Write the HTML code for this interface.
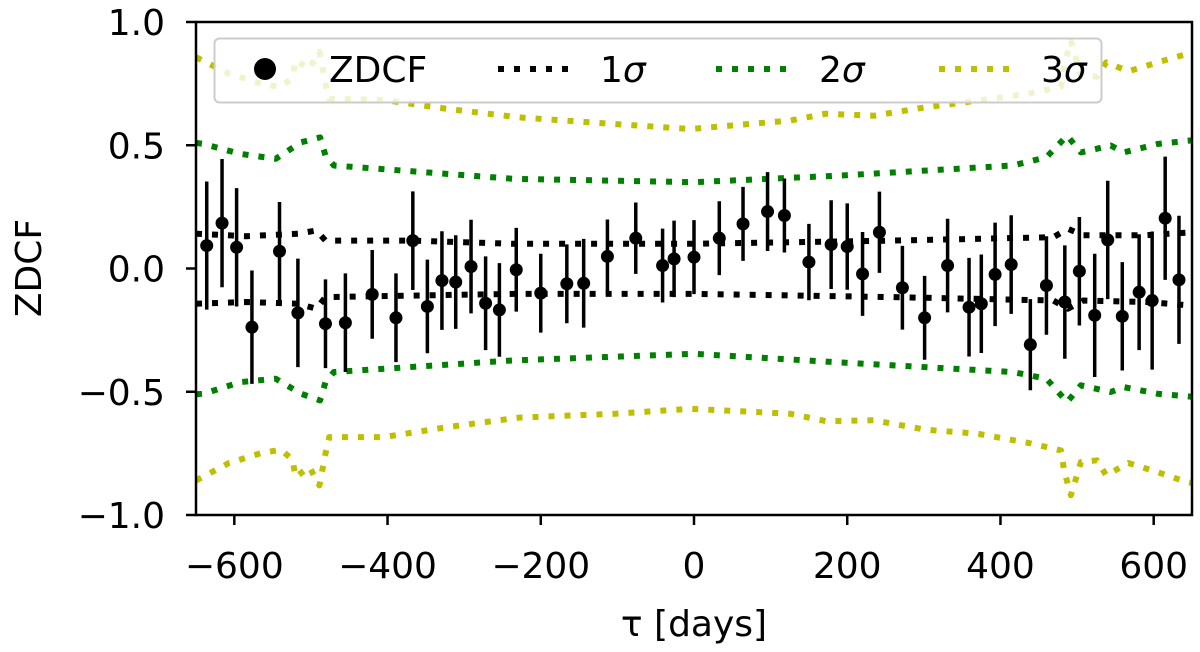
<!DOCTYPE html>
<html><head><meta charset="utf-8"><style>
html,body{margin:0;padding:0;background:#fff;}
svg{display:block;font-family:"DejaVu Sans","Liberation Sans",sans-serif;}
</style></head><body>
<svg id="chart" width="1200" height="652" viewBox="0 0 1200 652" xmlns="http://www.w3.org/2000/svg">
<g id="bands"></g>
<g id="points"></g>
<g id="axes"></g>
<g id="legend"></g>
</svg>
<script>
const tau = [-636,-616,-597,-577,-541,-517,-481,-455,-420,-389,-367,-348,-329,-311,-291,-272,-254,-232,-200,-166,-144,-113,-76,-41,-26,0,33,64,96,118,150,179,200,220,242,272,301,331,359,375,393,414,439,460,484,503,523,540,559,581,598,615,633];
const zdcf = [0.093,0.184,0.086,-0.238,0.07,-0.18,-0.224,-0.22,-0.105,-0.2,0.113,-0.154,-0.049,-0.055,0.008,-0.141,-0.168,-0.005,-0.1,-0.062,-0.06,0.049,0.123,0.012,0.039,0.046,0.123,0.181,0.231,0.215,0.026,0.097,0.089,-0.022,0.147,-0.078,-0.2,0.012,-0.157,-0.143,-0.024,0.016,-0.309,-0.069,-0.136,-0.011,-0.19,0.116,-0.194,-0.096,-0.13,0.204,-0.046];
const zdcfErr = [0.26,0.26,0.24,0.23,0.2,0.22,0.18,0.2,0.18,0.18,0.2,0.19,0.2,0.19,0.19,0.19,0.19,0.17,0.16,0.16,0.18,0.15,0.145,0.15,0.155,0.15,0.15,0.15,0.16,0.15,0.155,0.18,0.175,0.17,0.165,0.17,0.17,0.19,0.2,0.2,0.21,0.2,0.185,0.2,0.23,0.22,0.25,0.24,0.22,0.235,0.28,0.25,0.26];

const s1Tau = [-650,-584,-517,-493,-481,-368,-236,0,260,469,488,508,590,650];
const s1Up = [0.141,0.131,0.141,0.154,0.113,0.113,0.1,0.1,0.113,0.127,0.161,0.135,0.135,0.147];
const s1Lo = [-0.143,-0.136,-0.143,-0.163,-0.116,-0.11,-0.103,-0.103,-0.116,-0.13,-0.163,-0.13,-0.136,-0.15];

const s2Tau = [-650,-640,-592,-546,-513,-488,-481,-470,-236,0,190,416,460,487,505,544,561,605,650];
const s2Up = [0.51,0.505,0.465,0.445,0.512,0.532,0.458,0.418,0.364,0.35,0.377,0.418,0.451,0.539,0.471,0.499,0.471,0.505,0.52];
const s2Lo = [-0.51,-0.508,-0.461,-0.447,-0.508,-0.535,-0.461,-0.42,-0.373,-0.346,-0.381,-0.42,-0.447,-0.542,-0.474,-0.501,-0.481,-0.508,-0.52];

const s3UpTau = [-650,-607,-565,-539,-524,-520,-502,-489,-481,-476,-405,-321,-228,-102,-5,125,172,235,302,370,437,479,483,492,505,526,538,567,605,643,650];
const s3Up = [0.857,0.79,0.75,0.735,0.776,0.846,0.809,0.88,0.751,0.688,0.684,0.647,0.613,0.586,0.566,0.6,0.628,0.62,0.654,0.681,0.709,0.738,0.82,0.924,0.785,0.778,0.836,0.8,0.836,0.87,0.875];
const s3LoTau = [-650,-607,-565,-539,-524,-520,-502,-489,-481,-476,-405,-321,-228,-102,-5,125,172,235,302,370,437,479,483,492,505,526,538,567,605,643,650];
const s3Lo = [-0.86,-0.789,-0.749,-0.735,-0.776,-0.846,-0.805,-0.88,-0.751,-0.684,-0.684,-0.643,-0.605,-0.589,-0.569,-0.589,-0.619,-0.616,-0.654,-0.67,-0.708,-0.738,-0.819,-0.92,-0.785,-0.778,-0.839,-0.789,-0.826,-0.866,-0.87];

const xTicks = [-600,-400,-200,0,200,400,600];
const xTickLabels = ["\u2212600","\u2212400","\u2212200","0","200","400","600"];
const yTicks = [-1.0,-0.5,0.0,0.5,1.0];
const yTickLabels = ["\u22121.0","\u22120.5","0.0","0.5","1.0"];

const L=196, R=1192, T=22, B=515;
const xMin=-650, xMax=650, yMin=-1, yMax=1;
function X(v){return L+(v-xMin)/(xMax-xMin)*(R-L);}
function Y(v){return B-(v-yMin)/(yMax-yMin)*(B-T);}
const NS="http://www.w3.org/2000/svg";
function mk(tag,attrs,parent){const e=document.createElementNS(NS,tag);for(const k in attrs)e.setAttribute(k,attrs[k]);parent.appendChild(e);return e;}

const defs=mk('defs',{},document.getElementById('chart'));
const cp=mk('clipPath',{id:'clip'},defs);
mk('rect',{x:L,y:T,width:R-L,height:B-T},cp);

const bands=document.getElementById('bands');
bands.setAttribute('clip-path','url(#clip)');
function band(tx,ty,color,name){
  const d=tx.map((t,i)=>(i?'L':'M')+X(t).toFixed(1)+' '+Y(ty[i]).toFixed(1)).join(' ');
  const p=mk('path',{d:d,fill:'none',stroke:color,'stroke-width':6,'stroke-dasharray':'6 10','stroke-linejoin':'round'},bands);
  
  
}
band(s3UpTau,s3Up,'#bfbf00','sigma3-upper');
band(s3LoTau,s3Lo,'#bfbf00','sigma3-lower');
band(s2Tau,s2Up,'#008000','sigma2-upper');
band(s2Tau,s2Lo,'#008000','sigma2-lower');
band(s1Tau,s1Up,'#000','sigma1-upper');
band(s1Tau,s1Lo,'#000','sigma1-lower');

const pts=document.getElementById('points');
tau.forEach((t,i)=>{
  const g=mk('g',{},pts);
  
  
  mk('line',{x1:X(t),x2:X(t),y1:Y(zdcf[i]+zdcfErr[i]),y2:Y(zdcf[i]-zdcfErr[i]),stroke:'#000','stroke-width':3.5},g);
  mk('circle',{cx:X(t),cy:Y(zdcf[i]),r:6.5,fill:'#000'},g);
});

const ax=document.getElementById('axes');
const fr=mk('rect',{x:L,y:T,width:R-L,height:B-T,fill:'none',stroke:'#000','stroke-width':2.5},ax);


xTicks.forEach((v,i)=>{
  mk('line',{x1:X(v),x2:X(v),y1:B,y2:B+10,stroke:'#000','stroke-width':2.5},ax);
  const tx=mk('text',{x:X(v),y:578,'font-size':36,'text-anchor':'middle',fill:'#000'},ax);
  tx.textContent=xTickLabels[i];
  
  
});
yTicks.forEach((v,i)=>{
  mk('line',{x1:L-10,x2:L,y1:Y(v),y2:Y(v),stroke:'#000','stroke-width':2.5},ax);
  const tx=mk('text',{x:165,y:Y(v)+13,'font-size':36,'text-anchor':'end',fill:'#000'},ax);
  tx.textContent=yTickLabels[i];
  
  
});
const xl=mk('text',{x:694,y:636,'font-size':36,'text-anchor':'middle',fill:'#000'},ax);
xl.textContent='\u03C4 [days]';


const yl=mk('text',{x:0,y:0,'font-size':36,'text-anchor':'middle',fill:'#000',transform:'translate(41,268) rotate(-90)'},ax);
yl.textContent='ZDCF';



const lg=document.getElementById('legend');
const box=mk('rect',{x:214.5,y:38.5,width:887,height:64,rx:5,fill:'#fff','fill-opacity':0.8,stroke:'#ccc','stroke-width':2},lg);


const ly=69;
const e0=mk('circle',{cx:265,cy:ly,r:11,fill:'#000'},lg);


const t0=mk('text',{x:329,y:ly+13,'font-size':36,fill:'#000'},lg);
t0.textContent='ZDCF';


[[498,600,'#000','1'],[716,819,'#008000','2'],[939,1041,'#bfbf00','3']].forEach(e=>{
  const ln=mk('line',{x1:e[0],x2:e[0]+71,y1:ly,y2:ly,stroke:e[2],'stroke-width':6,'stroke-dasharray':'6 10'},lg);
  
  
  const tx=mk('text',{x:e[1],y:ly+13,'font-size':36,fill:'#000'},lg);
  
  
  const a=mk('tspan',{},tx); a.textContent=e[3];
  const b=mk('tspan',{'font-style':'italic'},tx); b.textContent='\u03C3';
});
</script>
</body></html>
